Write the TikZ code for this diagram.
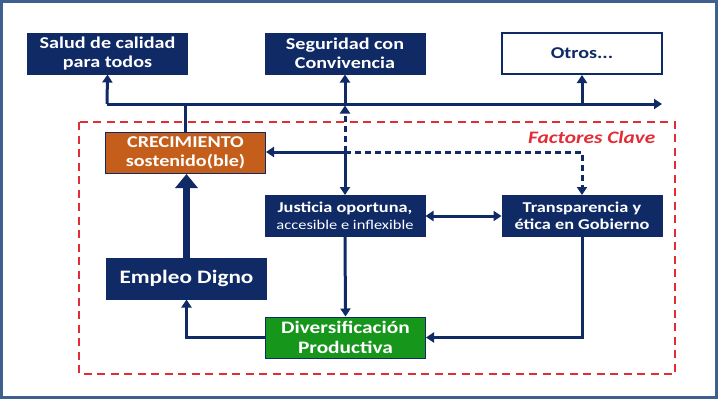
\documentclass[tikz,border=0pt]{standalone}
\usepackage{fontspec}
\setmainfont{Carlito}[FakeStretch=1.22]
\usetikzlibrary{arrows.meta}
\definecolor{azul}{HTML}{102A66}
\definecolor{naranja}{HTML}{C45E1A}
\definecolor{verde}{HTML}{17961C}
\definecolor{rojo}{HTML}{E22C36}
\definecolor{marco}{HTML}{3F5F8F}
\begin{document}
\begin{tikzpicture}[x=1pt,y=-1pt,
    caja/.style={draw=azul, line width=1pt, fill=azul, text=white, align=center,
      inner sep=0pt, minimum width=160pt, minimum height=41pt,
      font=\bfseries\fontsize{16.5}{18.5}\selectfont},
    cajamedia/.style={caja, font=\bfseries\fontsize{15}{17}\selectfont},
    linea/.style={draw=azul, line width=3pt},
    flecha/.style={linea, -{Triangle[length=8pt,width=10pt]}},
    punteada/.style={flecha, dash pattern=on 6pt off 4pt},
    flechagruesa/.style={draw=azul, line width=7pt, -{Triangle[length=14pt,width=22pt]}}]
    % Marco y area
    \useasboundingbox (0,0) rectangle (720,400);
    \draw[marco, line width=2.5pt] (1.5,1.5) rectangle (716.5,397.5);
    \draw[rojo, line width=1.6pt, dash pattern=on 8pt off 5.5pt] (79,122) rectangle (675,374);
    \node[anchor=east, text=rojo, font=\bfseries\itshape\fontsize{17.5}{19}\selectfont] (clave) at (659,137) {Factores Clave};
    % Resultados
    \node[caja] (salud) at (107.5,53.5) {Salud de calidad\\para todos};
    \node[caja] (seguridad) at (345,53.5) {Seguridad con\\Convivencia};
    \node[caja, fill=white, text=azul, line width=2pt] (otros) at (582,53.5) {Otros...};
    % Factores
    \node[caja, fill=naranja] (crec) at (185.5,153) {CRECIMIENTO\\sostenido(ble)};
    \node[cajamedia] (justicia) at (345,216) {Justicia oportuna,\\{\mdseries\fontsize{13.5}{16}\selectfont accesible e inflexible}};
    \node[cajamedia] (transp) at (582,216) {Transparencia y\\ética en Gobierno};
    \node[caja, font=\bfseries\fontsize{19}{21}\selectfont] (empleo) at (186.5,278.5) {Empleo Digno};
    \node[caja, fill=verde, font=\bfseries\fontsize{17.5}{20}\selectfont] (divers) at (345.5,337.5) {Diversificación\\Productiva};
    % Linea de resultados
    \coordinate (busL) at (107,104);
    \coordinate (busR) at (662,104);
    \coordinate (hub) at (345,152);
    \draw[flecha] (busL) -- (busR);
    \draw[flecha] (busL) -- (salud.south);
    \draw[flecha] (seguridad.south |- busL) -- (seguridad.south);
    \draw[flecha] (otros.south |- busL) -- (otros.south);
    \draw[linea] (crec.north) -- (crec.north |- busL);
    % Conexiones
    \draw[flecha] (hub) -- (hub -| crec.east);
    \draw[flecha] (hub) -- (justicia.north);
    \draw[punteada, shorten >=1.5pt] (hub) -- (hub |- busL);
    \draw[punteada] (hub) -| (transp.north);
    \draw[linea, {Triangle[length=8pt,width=10pt]}-{Triangle[length=8pt,width=10pt]}] (justicia.east) -- (transp.west);
    \draw[flecha] (justicia.south) -- (divers.north);
    \draw[flecha] (transp.south) |- (divers.east);
    \draw[flecha] (divers.west) -| (empleo.south);
    \draw[flechagruesa] (empleo.north) -- (empleo.north |- crec.south);
\end{tikzpicture}
\end{document}
